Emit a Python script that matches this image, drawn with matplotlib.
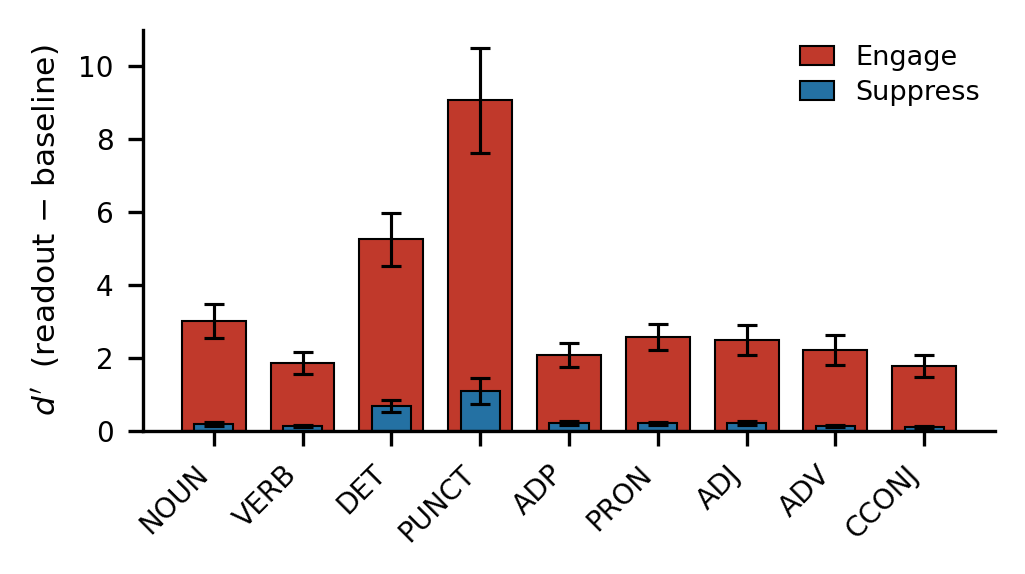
import numpy as np
import matplotlib
matplotlib.use('Agg')
import matplotlib.pyplot as plt

# part-of-speech categories
pos_tags = ['NOUN', 'VERB', 'DET', 'PUNCT', 'ADP', 'PRON', 'ADJ', 'ADV', 'CCONJ']

# d' (readout - baseline), means and error bars
engage_mean = [3.01, 1.86, 5.26, 9.07, 2.08, 2.58, 2.49, 2.22, 1.78]
engage_err = [0.47, 0.30, 0.73, 1.44, 0.33, 0.36, 0.41, 0.41, 0.30]
suppress_mean = [0.19, 0.14, 0.68, 1.10, 0.22, 0.21, 0.22, 0.14, 0.11]
suppress_err = [0.05, 0.04, 0.16, 0.36, 0.05, 0.05, 0.05, 0.04, 0.04]

col_engage = '#c0392b'
col_suppress = '#2471a3'

plt.rcParams['font.size'] = 6.7
fig, ax = plt.subplots(figsize=(1025/300, 574/300), dpi=300)

x = np.arange(len(pos_tags))
ekw = dict(elinewidth=0.75, capthick=0.75)
ax.bar(x, engage_mean, width=0.72, color=col_engage, edgecolor='black', linewidth=0.5,
       yerr=engage_err, capsize=2.5, error_kw=ekw, label='Engage')
ax.bar(x, suppress_mean, width=0.44, color=col_suppress, edgecolor='black', linewidth=0.5,
       yerr=suppress_err, capsize=2.5, error_kw=ekw, label='Suppress')

ax.set_xticks(x)
ax.set_xticklabels(pos_tags, rotation=45, ha='right')
ax.set_ylim(0, 11)
ax.set_yticks([0, 2, 4, 6, 8, 10])
ax.set_ylabel("$d'$  (readout − baseline)", fontsize=7.5)
ax.spines['top'].set_visible(False)
ax.spines['right'].set_visible(False)
ax.legend(frameon=False, loc='upper right', fontsize=6.5, handlelength=1.25,
          labelspacing=0.32, borderaxespad=0.15)

fig.subplots_adjust(left=0.1395, right=0.9707, top=0.9477, bottom=0.249)
plt.savefig('out.png', dpi=300)
